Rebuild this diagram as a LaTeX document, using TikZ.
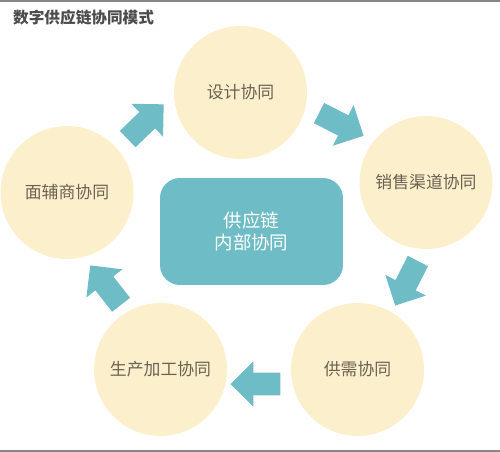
\documentclass[tikz,border=0pt]{standalone}
\usepackage{fontspec}
\usepackage{xcolor}
\usepackage{tikz}
\usetikzlibrary{positioning, shapes.arrows}
\newfontfamily\cjk{Noto Sans CJK SC}
\definecolor{cream}{HTML}{FCEFCB}
\definecolor{teal}{HTML}{6EBCC5}
\definecolor{inktext}{HTML}{6B6254}
\definecolor{rulegray}{HTML}{858585}

\begin{document}
\begin{tikzpicture}[x=0.02cm, y=-0.02cm,
    stage/.style={circle, fill=cream, minimum size=2.66cm, inner sep=0pt, font=\cjk\fontsize{9.6}{11}\selectfont, text=inktext},
    hub/.style={rectangle, rounded corners=0.4cm, fill=teal, minimum width=3.66cm, minimum height=2.14cm, align=center, font=\cjk\fontsize{10.5}{13}\selectfont, text=white},
    flow/.style={single arrow, fill=teal, inner xsep=0pt, inner ysep=0.22cm, minimum height=1cm, minimum width=0.9cm, single arrow head extend=0.23cm, single arrow tip angle=90, anchor=tip}]
        \useasboundingbox (0,0) rectangle (500,452);
        \fill[rulegray] (0,0) rectangle (500,2);
        \fill[rulegray] (0,450) rectangle (500,451.5);

        \node (title) [anchor=west, font=\cjk\bfseries\fontsize{8.9}{10}\selectfont, text=black!70] at (7,18) {数字供应链协同模式};

        \node (design) [stage] at (240.5,92.5) {设计协同};
        \node (sales) [stage] at (426,182.5) {销售渠道协同};
        \node (supply) [stage] at (357.5,369.5) {供需协同};
        \node (produce) [stage] at (160.5,369.5) {生产加工协同};
        \node (fabric) [stage] at (67,192.5) {面辅商协同};

        \node (inner) [hub] at (251.5,231.5) {供应链\\内部协同};

        \node (flow1) [flow, rotate=44] at (164,104) {};
        \node (flow2) [flow, rotate=-27] at (364,136) {};
        \node (flow3) [flow, rotate=-117] at (395,306) {};
        \node (flow4) [flow, rotate=180] at (230,384) {};
        \node (flow5) [flow, rotate=128] at (90,265) {};
    \end{tikzpicture}
\end{document}
